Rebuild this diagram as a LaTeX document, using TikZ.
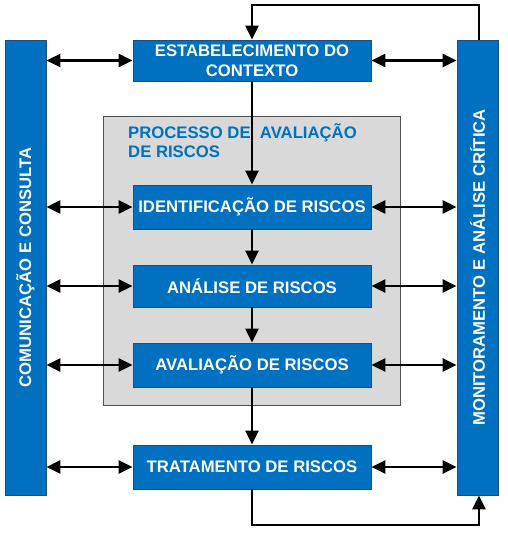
\documentclass[tikz,border=0pt]{standalone}
\usepackage{fontspec}
\setmainfont{Liberation Sans}
\usetikzlibrary{arrows.meta}
\definecolor{boxblue}{HTML}{0070C0}
\definecolor{boxedge}{HTML}{1F4E79}
\definecolor{grayfill}{HTML}{D9D9D9}
\definecolor{grayedge}{HTML}{505050}
\definecolor{titleblue}{HTML}{0070C0}
\tikzset{
  bluebox/.style={draw=boxedge, line width=0.8pt, fill=boxblue, text=white,
    font=\fontsize{16.7}{20}\selectfont\bfseries, align=center, inner sep=0pt},
  conn/.style={line width=2.6pt, -{Triangle[length=14pt,width=13pt]}},
  biconn/.style={line width=2.6pt, {Triangle[length=14pt,width=13pt]}-{Triangle[length=14pt,width=13pt]}},
}
\begin{document}
\begin{tikzpicture}[x=1pt,y=-1pt]
\useasboundingbox (0,0) rectangle (508,535);
% gray process box
\node[draw=grayedge, line width=0.9pt, fill=grayfill, minimum width=297pt, minimum height=289pt, inner sep=0pt] (proc) at (251.5,260.5) {};
\node[anchor=north west, text=titleblue, font=\fontsize{16.7}{19}\selectfont\bfseries, align=left, inner sep=0pt] (title) at (128,123) {PROCESSO DE\ \ AVALIAÇÃO\\DE RISCOS};
% side bars
\node[bluebox, minimum width=41pt, minimum height=455pt] (lbar) at (25.5,267.5) {};
\node[font=\fontsize{16.7}{20}\selectfont\bfseries, text=white, rotate=90, inner sep=0pt] (ltext) at (lbar.center) {COMUNICAÇÃO E CONSULTA};
\node[bluebox, minimum width=41pt, minimum height=455pt] (rbar) at (477.5,267.5) {};
\node[font=\fontsize{16.7}{20}\selectfont\bfseries, text=white, rotate=90, inner sep=0pt] (rtext) at (rbar.center) {MONITORAMENTO E ANÁLISE CRÍTICA};
% process boxes
\node[bluebox, minimum width=238pt, minimum height=41pt] (ctx) at (252,60.5) {ESTABELECIMENTO DO\\CONTEXTO};
\node[bluebox, minimum width=238pt, minimum height=44pt] (ident) at (252,207) {IDENTIFICAÇÃO DE RISCOS};
\node[bluebox, minimum width=238pt, minimum height=42pt] (anal) at (252,286) {ANÁLISE DE RISCOS};
\node[bluebox, minimum width=238pt, minimum height=44pt] (aval) at (252,365) {AVALIAÇÃO DE RISCOS};
\node[bluebox, minimum width=238pt, minimum height=44pt] (trat) at (252,467) {TRATAMENTO DE RISCOS};
% vertical flow
\draw[conn] (ctx.south) -- (ident.north);
\draw[conn] (ident.south) -- (anal.north);
\draw[conn] (anal.south) -- (aval.north);
\draw[conn] (aval.south) -- (trat.north);
% loops
\coordinate (tl) at (252,5);
\coordinate (tr) at (479,5);
\draw[conn] ([xshift=1.5pt]rbar.north) -- ([xshift=1.5pt]rbar.north |- tr) -- (tl) -- (ctx.north);
\coordinate (bl) at (252,525);
\draw[conn] (trat.south) -- (bl) -- ([xshift=1.5pt]rbar.south |- bl) -- ([xshift=1.5pt]rbar.south);
% side connectors
\foreach \b in {ctx,ident,anal,aval,trat}{
  \draw[biconn] (\b.west -| lbar.east) -- (\b.west);
  \draw[biconn] (\b.east) -- (\b.east -| rbar.west);
}
\end{tikzpicture}
\end{document}
